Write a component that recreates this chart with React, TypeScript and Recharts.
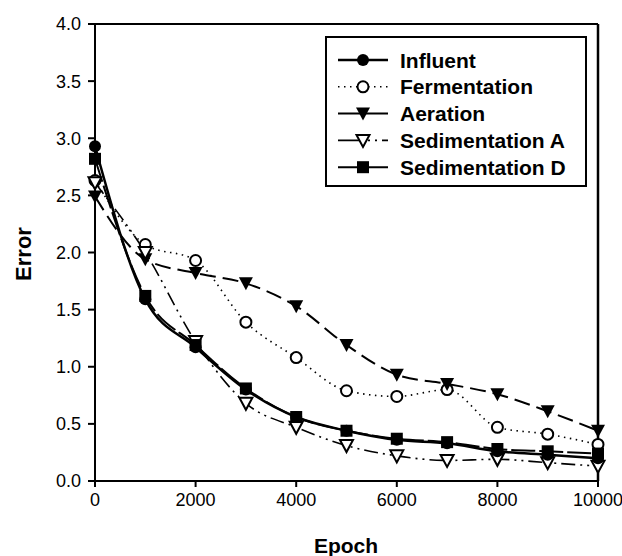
import React from "react";
import { LineChart, Line, XAxis, YAxis, ReferenceLine, Legend } from "recharts";

const epochs = [0, 1000, 2000, 3000, 4000, 5000, 6000, 7000, 8000, 9000, 10000];
const influent = [2.93, 1.59, 1.17, 0.8, 0.56, 0.44, 0.36, 0.33, 0.26, 0.23, 0.2];
const fermentation = [2.63, 2.07, 1.93, 1.39, 1.08, 0.79, 0.74, 0.8, 0.47, 0.41, 0.32];
const aeration = [2.49, 1.94, 1.82, 1.73, 1.53, 1.19, 0.93, 0.85, 0.76, 0.61, 0.44];
const sedA = [2.61, 2.0, 1.22, 0.68, 0.47, 0.31, 0.22, 0.18, 0.19, 0.16, 0.13];
const sedD = [2.82, 1.62, 1.19, 0.81, 0.56, 0.44, 0.37, 0.34, 0.28, 0.26, 0.24];

const xTicks = [0, 2000, 4000, 6000, 8000, 10000];
const yTicks = [0, 0.5, 1, 1.5, 2, 2.5, 3, 3.5, 4];

const FONT = "'Liberation Sans', Arial, sans-serif";

type Kind = "circle" | "ocircle" | "tri" | "otri" | "square";

// series look: key, label, marker, dash (legendDash = how the sample line looks in the box)
const series: { key: string; name: string; kind: Kind; dash?: string; legendDash?: string; width: number }[] = [
  { key: "fermentation", name: "Fermentation", kind: "ocircle", dash: "1.5 4.5", legendDash: "1.5 4.5", width: 1.6 },
  { key: "aeration", name: "Aeration", kind: "tri", dash: "16 7", width: 2 },
  { key: "sedA", name: "Sedimentation A", kind: "otri", dash: "14 5 2 5 2 5", legendDash: "25 5 2 5 2 5", width: 1.6 },
  { key: "sedD", name: "Sedimentation D", kind: "square", dash: "24 4", width: 2 },
  { key: "influent", name: "Influent", kind: "circle", width: 2.5 },
];
const legendOrder = ["influent", "fermentation", "aeration", "sedA", "sedD"];

const data = epochs.map((e, i) => ({
  epoch: e,
  influent: influent[i],
  fermentation: fermentation[i],
  aeration: aeration[i],
  sedA: sedA[i],
  sedD: sedD[i],
}));

function Marker({ kind, cx, cy }: { kind: Kind; cx: number; cy: number }) {
  if (cx == null || cy == null) return null;
  switch (kind) {
    case "circle":
      return <circle cx={cx} cy={cy} r={6} fill="#000" />;
    case "ocircle":
      return <circle cx={cx} cy={cy} r={5.5} fill="#fff" stroke="#000" strokeWidth={2} />;
    case "tri":
      return <polygon points={`${cx - 7},${cy - 6} ${cx + 7},${cy - 6} ${cx},${cy + 7}`} fill="#000" />;
    case "otri":
      return (
        <polygon
          points={`${cx - 6.5},${cy - 5.5} ${cx + 6.5},${cy - 5.5} ${cx},${cy + 6.5}`}
          fill="#fff"
          stroke="#000"
          strokeWidth={2}
        />
      );
    case "square":
      return <rect x={cx - 6} y={cy - 6} width={12} height={12} fill="#000" />;
  }
  return null;
}

function LegendBox() {
  const rows = legendOrder.map(k => series.find(s => s.key === k)!);
  return (
    <svg width={262} height={151} style={{ display: "block" }}>
      <rect x={1} y={1} width={260} height={149} fill="#fff" stroke="#000" strokeWidth={2} />
      {rows.map((s, i) => {
        const y = 24 + i * 26.8;
        return (
          <g key={s.key}>
            <line x1={13} x2={63} y1={y} y2={y} stroke="#000" strokeWidth={s.width} strokeDasharray={s.legendDash} />
            <Marker kind={s.kind} cx={38} cy={y} />
            <text x={75} y={y + 7.5} fontFamily={FONT} fontWeight="bold" fontSize={21} fill="#000">
              {s.name}
            </text>
          </g>
        );
      })}
    </svg>
  );
}

export default function App() {
  return (
    <div style={{ position: "absolute", left: 0, top: 0, background: "#fff" }}>
      <LineChart width={622} height={556} data={data} margin={{ top: 24, right: 24, left: 0, bottom: 0 }}>
        <XAxis
          dataKey="epoch"
          type="number"
          domain={[0, 10000]}
          ticks={xTicks}
          height={75}
          tickSize={6}
          tickMargin={6}
          stroke="#000"
          strokeWidth={2}
          tick={{ fill: "#000", fontSize: 18, fontFamily: FONT }}
          label={{
            content: () => (
              <text x={346} y={553} textAnchor="middle" fontFamily={FONT} fontWeight="bold" fontSize={21} fill="#000">
                Epoch
              </text>
            ),
          }}
        />
        <YAxis
          type="number"
          domain={[0, 4]}
          ticks={yTicks}
          width={95}
          tickSize={7}
          tickMargin={7}
          stroke="#000"
          strokeWidth={2}
          tickFormatter={(v: number) => v.toFixed(1)}
          tick={{ fill: "#000", fontSize: 18, fontFamily: FONT }}
          label={{
            content: () => (
              <text
                x={31}
                y={254}
                transform="rotate(-90 31 254)"
                textAnchor="middle"
                fontFamily={FONT}
                fontWeight="bold"
                fontSize={22}
                fill="#000"
              >
                Error
              </text>
            ),
          }}
        />
        <ReferenceLine y={4} stroke="#000" strokeWidth={2} />
        <ReferenceLine x={10000} stroke="#000" strokeWidth={2.5} />
        {series.map(s => (
          <Line
            key={s.key}
            dataKey={s.key}
            name={s.name}
            type="monotone"
            stroke="#000"
            strokeWidth={s.width}
            strokeDasharray={s.dash}
            isAnimationActive={false}
            activeDot={false}
            dot={(p: any) => <Marker key={`${s.key}-${p.index}`} kind={s.kind} cx={p.cx} cy={p.cy} />}
          />
        ))}
        <Legend
          layout="vertical"
          align="center"
          verticalAlign="middle"
          wrapperStyle={{ left: 325, top: 36, width: 262, height: 151 }}
          content={() => <LegendBox />}
        />
      </LineChart>
    </div>
  );
}
